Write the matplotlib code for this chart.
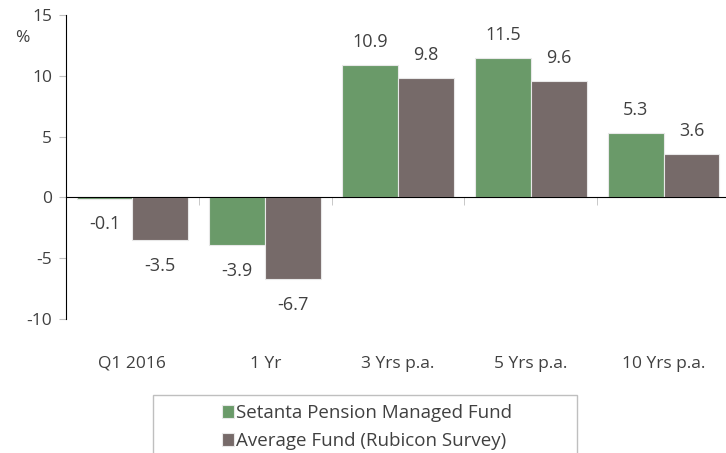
import matplotlib.pyplot as plt
import matplotlib.patches as mpatches
import numpy as np

categories = ['Q1 2016', '1 Yr', '3 Yrs p.a.', '5 Yrs p.a.', '10 Yrs p.a.']
setanta = [-0.1, -3.9, 10.9, 11.5, 5.3]
average = [-3.5, -6.7, 9.8, 9.6, 3.6]
series_names = ['Setanta Pension Managed Fund', 'Average Fund (Rubicon Survey)']

green = '#6a9a69'
brown = '#766a69'
text_col = '#404040'
fs = 12.5

plt.rcParams['font.family'] = ['Open Sans', 'DejaVu Sans']
plt.rcParams['axes.unicode_minus'] = False

fig = plt.figure(figsize=(7.26, 4.53), dpi=100)
ax = fig.add_axes([66 / 726, 1 - 319 / 453, (730 - 66) / 726, (319 - 15) / 453])

x = np.arange(len(categories))
w = 0.42
b1 = ax.bar(x - w / 2, setanta, w, color=green, edgecolor='#e8e8e8', linewidth=0.8,
            label=series_names[0], zorder=2)
b2 = ax.bar(x + w / 2, average, w, color=brown, edgecolor='#e8e8e8', linewidth=0.8,
            label=series_names[1], zorder=2)

# value labels above / below each bar
for bars, vals in [(b1, setanta), (b2, average)]:
    for r, v in zip(bars, vals):
        off = 16.5 if v >= 0 else -18.5
        ax.annotate('{:.1f}'.format(v), (r.get_x() + r.get_width() / 2, v),
                    xytext=(0, off), textcoords='offset points',
                    ha='center', va='center', fontsize=13, color=text_col)

ax.set_xlim(-0.5, len(categories) - 0.5)
ax.set_ylim(-10, 15)
ax.set_yticks([-10, -5, 0, 5, 10, 15])
ax.tick_params(axis='y', length=5, color='#bfbfbf', labelsize=fs, labelcolor=text_col, pad=5)

# zero line with category separators
ax.spines['top'].set_position(('data', 0))
ax.spines['top'].set_color('black')
ax.spines['top'].set_zorder(3)
ax.spines['bottom'].set_visible(False)
ax.spines['right'].set_visible(False)
ax.spines['left'].set_color('black')
ax.set_xticks(x)
ax.set_xticklabels(categories)
ax.set_xticks(np.arange(len(categories) + 1) - 0.5, minor=True)
ax.tick_params(axis='x', which='major', bottom=False, top=False, labelbottom=True,
               labelsize=fs, labelcolor=text_col, pad=23)
ax.tick_params(axis='x', which='minor', bottom=False, top=True, direction='in',
               length=6, color='#bfbfbf')

ax.text(-0.066, 0.925, '%', transform=ax.transAxes, fontsize=fs, color=text_col,
        ha='center', va='center')

# legend box
fig.patches.append(mpatches.Rectangle((153 / 726, -0.3), (577 - 153) / 726, 1 - 395 / 453 + 0.3,
                                      transform=fig.transFigure, fill=False,
                                      edgecolor='#bfbfbf', linewidth=1))
fig.legend(handles=[b1, b2], loc='upper left', bbox_to_anchor=(222 / 726, 1 - 404 / 453),
           frameon=False, fontsize=13.5, handlelength=0.65, handleheight=0.65,
           handletextpad=0.12, labelspacing=0.55, labelcolor=text_col,
           borderpad=0, borderaxespad=0)

fig.savefig('out.png', dpi=100)
